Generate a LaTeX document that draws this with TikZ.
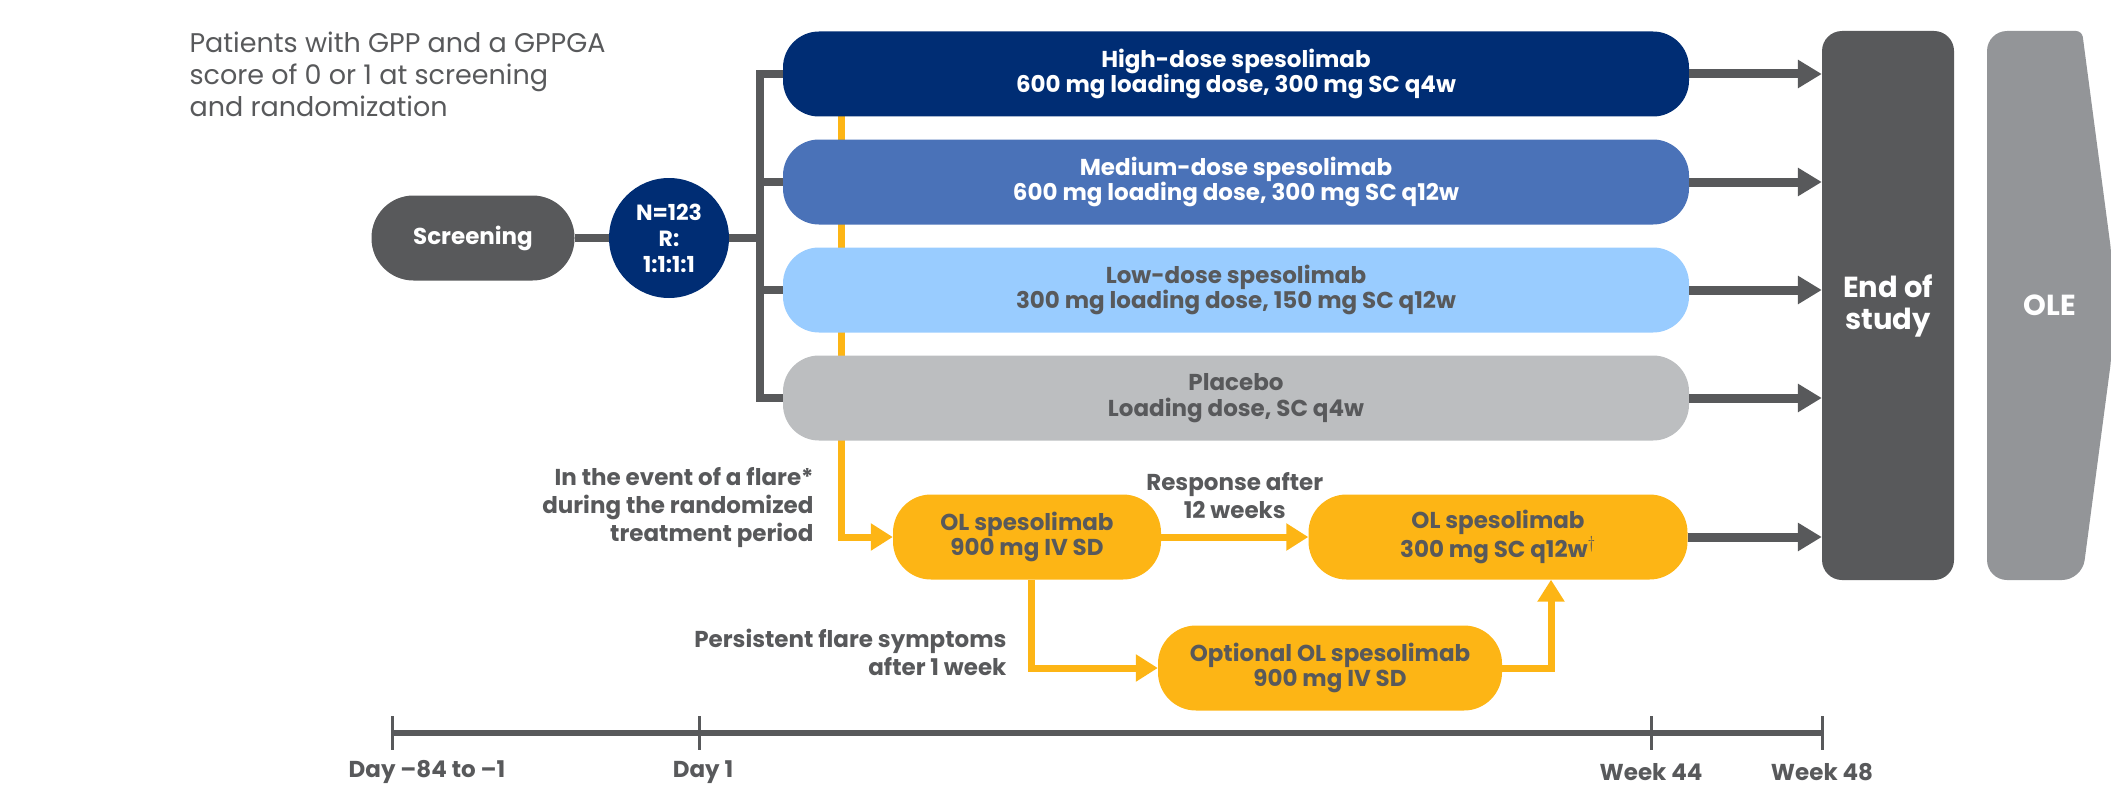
\documentclass[tikz,border=0pt]{standalone}
\usepackage{fontspec}
\setmainfont{Poppins}
\usetikzlibrary{arrows.meta,positioning,backgrounds}
\definecolor{navy}{HTML}{002D74}
\definecolor{midblue}{HTML}{4A72B8}
\definecolor{lightblue}{HTML}{99CCFF}
\definecolor{placebogrey}{HTML}{BCBEC0}
\definecolor{darkgrey}{HTML}{58595B}
\definecolor{olegrey}{HTML}{939598}
\definecolor{flareyellow}{HTML}{FDB515}
\newcommand{\boxfont}{\fontsize{23}{25.5}\selectfont\bfseries}
\tikzset{
    %Define style for the arm boxes
    arm/.style={
           rectangle,
           rounded corners=36pt,
           minimum width=906pt,
           minimum height=85pt,
           font=\boxfont,
           text centered,
           align=center},
    % open-label boxes
    olbox/.style={
           rectangle,
           rounded corners=38pt,
           fill=flareyellow,
           text=darkgrey,
           minimum height=85pt,
           font=\boxfont,
           align=center},
    lbl/.style={
           text=darkgrey,
           font=\fontsize{23}{28}\selectfont\bfseries,
           align=right},
    % Define line and arrow styles
    trunk/.style={draw=darkgrey, line width=8pt},
    pil/.style={draw=darkgrey, line width=9pt, -{Triangle[length=24pt,width=27pt]}},
    flare/.style={draw=flareyellow, line width=7pt},
    flarepil/.style={flare, -{Triangle[length=22pt,width=26pt]}}
}
\begin{document}
\begin{tikzpicture}[x=1pt,y=-1pt]
\useasboundingbox (0,0) rectangle (2111,789);
 %nodes
\node[anchor=north west, align=left, text=darkgrey, font=\fontsize{27}{32}\selectfont] (who) at (186,28)
  {Patients with GPP and a GPPGA\\score of 0 or 1 at screening\\and randomization};
\node[rectangle, rounded corners=42pt, fill=darkgrey, text=white, font=\boxfont,
      minimum width=203pt, minimum height=85pt] (screen) at (473,238) {Screening};
\node[circle, fill=navy, text=white, font=\fontsize{22}{26}\selectfont\bfseries,
      minimum size=120pt, inner sep=0pt, align=center] (rand) at (669,238) {N=123\\R:\\1:1:1:1};
\coordinate (split) at (760,238);
\node[arm, fill=navy, text=white] (high) at (1236,74) {High-dose spesolimab\\600 mg loading dose, 300 mg SC q4w};
\node[arm, fill=midblue, text=white] (medium) at (1236,182) {Medium-dose spesolimab\\600 mg loading dose, 300 mg SC q12w};
\node[arm, fill=lightblue, text=darkgrey] (low) at (1236,290) {Low-dose spesolimab\\300 mg loading dose, 150 mg SC q12w};
\node[arm, fill=placebogrey, text=darkgrey] (placebo) at (1236,398) {Placebo\\Loading dose, SC q4w};
\node[rectangle, rounded corners=20pt, fill=darkgrey, text=white, font=\fontsize{29}{32}\selectfont\bfseries,
      minimum width=132pt, minimum height=549pt, align=center] (eos) at (1888,305.5) {End of\\study};
\fill[olegrey] (2030,31) [rounded corners=20pt] -- (1987,31) -- (1987,580) -- (2082,580)
   [rounded corners=6pt] -- (2111,361) -- (2111,250) -- (2082,31) -- cycle;
\node[text=white, font=\fontsize{29}{32}\selectfont\bfseries] (ole) at (2050,305) {OLE};
\node[olbox, minimum width=268pt] (ol1) at (1027,537) {OL spesolimab\\900 mg IV SD};
\node[olbox, minimum width=379pt] (ol2) at (1498,537) {OL spesolimab\\300 mg SC q12w$^{\dagger}$};
\node[olbox, minimum width=344pt] (olopt) at (1330,668) {Optional OL spesolimab\\900 mg IV SD};
\node[lbl, anchor=east] (flarelbl) at (817,508) {In the event of a flare*\\during the randomized\\treatment period};
\node[lbl, anchor=east] (persist) at (1010,652) {Persistent flare symptoms\\after 1 week};
\coordinate (flaretop) at (841,110);
 %connectors
\begin{scope}[on background layer]
\draw[flarepil] (flaretop) |- (ol1.west);
\draw[trunk] (screen) -- (rand);
\draw[trunk] (rand) -- (split);
\draw[trunk, line join=miter] (high.west) -| (split) |- (placebo.west);
\draw[trunk] (split) |- (medium.west);
\draw[trunk] (split) |- (low.west);
\end{scope}
\draw[pil] (high.east) -- (high.east -| eos.west);
\draw[pil] (medium.east) -- (medium.east -| eos.west);
\draw[pil] (low.east) -- (low.east -| eos.west);
\draw[pil] (placebo.east) -- (placebo.east -| eos.west);
\draw[pil] (ol2.east) -- (ol2.east -| eos.west);
\draw[flarepil] (ol1.east) -- node[lbl, align=center, above=11pt] (resp) {Response after\\12 weeks} (ol2.west);
\draw[flarepil] ([xshift=4pt]ol1.south) |- (olopt.west);
\draw[flarepil] (olopt.east) -| ([xshift=53pt]ol2.south);
 %timeline
\coordinate (t1) at (392,733);
\coordinate (t2) at (699,733);
\coordinate (t3) at (1651,733);
\coordinate (t4) at (1822,733);
\draw[darkgrey, line width=6pt] (t1) -- (t4);
\foreach \t in {t1,t2,t3,t4}
  \draw[darkgrey, line width=3pt] ([yshift=17pt]\t) -- ([yshift=-17pt]\t);
\node[lbl, align=center] (d0) at (427,772) {Day –84 to –1};
\node[lbl, align=center] (d1) at (703,772) {Day 1};
\node[lbl, align=center] (w44) at (1651,772) {Week 44};
\node[lbl, align=center] (w48) at (1822,772) {Week 48};
\end{tikzpicture}
\end{document}
